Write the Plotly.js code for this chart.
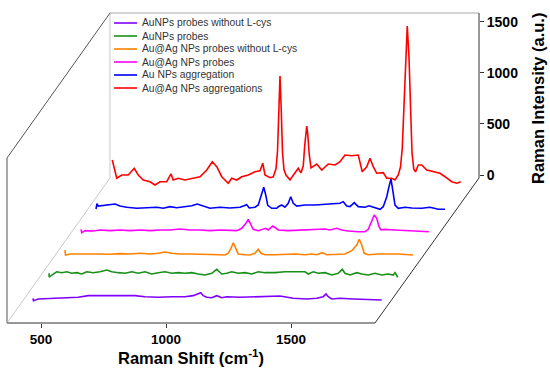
<!DOCTYPE html>
<html>
<head>
<meta charset="utf-8">
<script src="https://cdn.plot.ly/plotly-3.0.1.min.js"></script>
<style>html,body{margin:0;padding:0;background:#fff;}#chart{width:550px;height:372px;}</style>
</head>
<body>
<div id="chart"></div>
<script>
// ---- data ----
const seriesNames = [
  "AuNPs probes without L-cys",
  "AuNPs probes",
  "Au@Ag NPs probes without L-cys",
  "Au@Ag NPs probes",
  "Au NPs aggregation",
  "Au@Ag NPs aggregations"
];
const xTickVals = [500, 1000, 1500];
const yTickVals = [0, 500, 1000, 1500];

const purpleShift = [400,402,421,475,528,581,621,675,728,768,808,848,901,955,1008,1041,1061,1071,1081,1095,1115,1135,1155,1175,1228,1281,1335,1388,1441,1495,1535,1561,1572,1581,1595,1628,1681,1735,1795];
const purpleInt   = [-52,-75,-59,-52,-52,-42,-26,-26,-20,-26,-26,-36,-42,-36,-36,-26,-10,3,-26,-42,-46,-26,-46,-36,-42,-36,-36,-29,-52,-59,-52,-36,-10,-36,-59,-52,-59,-62,-69];

const greenShift = [400,401,411,431,451,471,491,511,531,551,577,604,631,651,677,704,731,757,784,811,837,864,891,917,944,971,997,1024,1051,1071,1091,1111,1131,1157,1184,1211,1237,1264,1304,1344,1384,1424,1437,1457,1477,1504,1531,1557,1573,1584,1604,1631,1651,1677,1704,1731,1757,1777,1784,1795];
const greenInt   = [-38,-77,-55,-23,-32,-23,-38,-32,-45,-23,-32,-23,-6,-23,-32,-38,-23,-38,-23,-45,-32,-23,-38,-32,-38,-32,-45,-55,-38,1,-45,-38,-23,-38,-32,-45,-23,-32,-32,-23,-23,-23,-45,-23,-38,-32,-55,-38,1,-38,-55,-32,-45,-55,-38,-55,-45,-55,-32,-77];

const orangeShift = [400,402,420,460,500,540,580,620,660,700,740,773,800,827,860,900,940,980,1020,1040,1053,1064,1073,1083,1093,1120,1140,1160,1173,1184,1200,1240,1280,1320,1360,1387,1407,1429,1447,1480,1520,1547,1567,1577,1587,1597,1613,1653,1693,1733,1792];
const orangeInt   = [-42,-90,-80,-83,-80,-80,-83,-77,-80,-73,-80,-73,-61,-73,-80,-80,-80,-80,-87,-90,-73,-25,30,-25,-80,-87,-90,-73,-34,-73,-87,-87,-80,-80,-87,-80,-87,-67,-87,-87,-80,-48,8,64,8,-73,-87,-80,-80,-80,-90];

const magentaShift = [400,403,416,449,476,516,556,596,636,676,716,756,796,836,876,916,956,996,1023,1043,1060,1069,1079,1089,1109,1129,1139,1149,1167,1176,1189,1229,1283,1336,1376,1396,1423,1443,1469,1509,1536,1549,1563,1573,1583,1592,1600,1616,1656,1709,1749,1792];
const magentaInt   = [-70,-103,-83,-86,-76,-83,-76,-83,-76,-83,-76,-76,-67,-76,-76,-83,-76,-76,-83,-60,-11,28,-18,-70,-83,-70,-60,-76,-37,-52,-76,-83,-76,-70,-67,-76,-60,-76,-86,-93,-93,-70,5,71,38,-44,-76,-70,-76,-83,-83,-93];

const blueShift = [396,400,405,432,452,472,492,519,559,599,639,665,692,719,759,779,801,825,852,892,932,972,999,1009,1032,1045,1059,1067,1075,1083,1099,1119,1125,1139,1152,1165,1175,1185,1199,1232,1272,1312,1345,1372,1385,1399,1412,1429,1445,1472,1488,1505,1532,1545,1559,1568,1576,1583,1592,1605,1632,1659,1699,1732,1765,1792];
const blueInt   = [-102,-50,-73,-63,-63,-53,-73,-85,-95,-89,-85,-95,-79,-89,-79,-70,-53,-73,-95,-85,-92,-85,-60,-92,-85,-63,35,111,35,-66,-95,-95,-79,-63,-85,-46,19,-46,-73,-63,-63,-56,-46,-46,-30,-73,-79,-40,-79,-85,-70,-85,-105,-79,19,117,192,84,-63,-95,-85,-92,-95,-85,-105,-105];

const redShift = [397,415,435,461,485,501,521,548,568,588,615,632,641,661,688,715,748,775,797,815,835,861,875,895,915,941,968,988,999,1008,1028,1041,1052,1058,1063,1068,1073,1078,1084,1092,1108,1128,1141,1152,1161,1167,1172,1175,1179,1185,1192,1215,1235,1261,1288,1308,1328,1355,1381,1397,1415,1428,1441,1455,1481,1495,1515,1528,1541,1550,1557,1563,1570,1577,1584,1590,1596,1603,1610,1621,1635,1655,1681,1708,1728,1755,1775,1791];
const redInt   = [147,-32,0,0,66,0,-49,-66,-98,-66,-66,10,-49,-32,-49,-32,-17,49,130,81,-17,-81,-32,-49,-17,0,32,42,115,0,-26,-17,60,230,640,970,640,220,50,0,-49,20,66,20,90,290,450,480,400,200,70,108,49,108,98,130,196,189,196,32,81,164,81,17,23,-32,-32,-49,0,80,260,620,1150,1460,1150,620,220,60,30,98,98,49,32,17,-17,-66,-81,-66];

const shifts = [purpleShift, greenShift, orangeShift, magentaShift, blueShift, redShift];
const intensities = [purpleInt, greenInt, orangeInt, magentaInt, blueInt, redInt];

// ---- styles / geometry ----
const colors = ["#8000ff", "#1a8f1a", "#ff8000", "#ff00ff", "#0000ff", "#ff0000"];
const W = 550, H = 372;
const M = {l: 7, r: 71, t: 13, b: 49};
const plotW = W - M.l - M.r, plotH = H - M.t - M.b;
const depthX0 = 68, depthStepX = 64;     // waterfall shift (cm-1 units)
const depthStepY = 231.3;                // waterfall shift (a.u.)
const nS = seriesNames.length;

const traces = shifts.map((sx, i) => ({
  type: "scatter", mode: "lines", name: seriesNames[i],
  x: sx.map(w => w + depthX0 + depthStepX * i),
  y: intensities[i].map(v => v - (nS - 1 - i) * depthStepY),
  line: {color: colors[i], width: 1.6},
  hoverinfo: "skip"
}));

// pixel -> paper helpers for decoration
const px = p => (p - M.l) / plotW;
const py = p => (H - M.b - p) / plotH;

function seg(x0, y0, x1, y1, color, w) {
  return {type: "line", xref: "paper", yref: "paper", x0: px(x0), y0: py(y0), x1: px(x1), y1: py(y1),
          line: {color: color, width: w || 1}, layer: "below"};
}
const shapes = [
  seg(110, 13, 479, 13, "#aaaaaa"),      // back top
  seg(110, 13, 110, 178, "#c8c8c8"),     // back left
  seg(110, 13, 7, 158, "#555555"),       // top-left diagonal
  seg(7, 158, 7, 323, "#555555"),        // front left
  seg(7, 323, 110, 178, "#c8c8c8"),      // bottom-left diagonal
  seg(7, 323, 375, 323, "#333333"),      // front bottom axis
  seg(375, 323, 479, 178, "#333333"),    // bottom-right diagonal
  seg(479, 13, 479, 178, "#333333")      // right intensity axis
];
const annotations = [];
seriesNames.forEach((n, i) => {
  const yy = 23 + 13 * i;
  shapes.push({type: "line", xref: "paper", yref: "paper", x0: px(114), x1: px(137), y0: py(yy), y1: py(yy),
               line: {color: colors[i], width: 1.6}});
  annotations.push({xref: "paper", yref: "paper", x: px(140), y: py(yy), xanchor: "left", yanchor: "middle",
                    text: n, showarrow: false, font: {family: "Arial, Liberation Sans, sans-serif", size: 10.3, color: "#333333"}});
});
annotations.push({xref: "paper", yref: "paper", x: px(191), y: py(357), xanchor: "center", yanchor: "middle",
  text: "Raman Shift (cm<sup>-1</sup>)", showarrow: false,
  font: {family: "Arial, Liberation Sans, sans-serif", size: 16.5, weight: "bold", color: "#000"}});
annotations.push({xref: "paper", yref: "paper", x: px(538), y: py(99), xanchor: "center", yanchor: "middle",
  text: "Raman Intensity (a.u.)", textangle: -90, showarrow: false,
  font: {family: "Arial, Liberation Sans, sans-serif", size: 16.5, weight: "bold", color: "#000"}});

const tickFont = {family: "Arial, Liberation Sans, sans-serif", size: 13.5, weight: "bold", color: "#000"};
const layout = {
  width: W, height: H, margin: M,
  paper_bgcolor: "#fff", plot_bgcolor: "rgba(0,0,0,0)",
  showlegend: false,
  xaxis: {range: [364, 2252], tickvals: xTickVals, ticktext: xTickVals.map(String),
          ticks: "outside", ticklen: 4, tickcolor: "#333", tickwidth: 1,
          showgrid: false, zeroline: false, showline: false, tickfont: tickFont, fixedrange: true},
  yaxis: {range: [-1450.4, 1587.6], side: "right", tickvals: yTickVals, ticktext: yTickVals.map(String),
          ticks: "outside", ticklen: 4, tickcolor: "#333", tickwidth: 1,
          showgrid: false, zeroline: false, showline: false, tickfont: Object.assign({}, tickFont, {size: 14}), fixedrange: true},
  shapes: shapes, annotations: annotations
};
Plotly.newPlot("chart", traces, layout, {staticPlot: true, displayModeBar: false});
</script>
</body>
</html>
